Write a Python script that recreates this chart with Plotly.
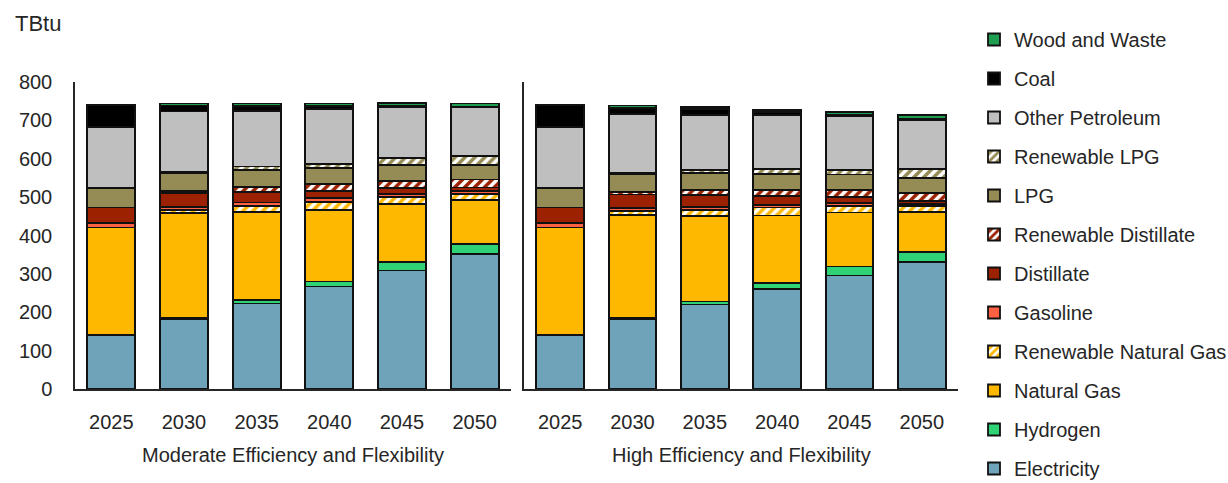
import plotly.graph_objects as go

# Years on each panel's category axis
years = ["2025", "2030", "2035", "2040", "2045", "2050"]
scenarios = ["Moderate Efficiency and Flexibility", "High Efficiency and Flexibility"]

# Energy use by fuel (TBtu), Moderate Efficiency and Flexibility
mod_electricity = [141, 183, 223, 267, 309, 352]
mod_hydrogen = [0, 1, 8, 13, 22, 26]
mod_natural_gas = [280, 275, 231, 187, 152, 115]
mod_renewable_ng = [0, 7, 14, 21, 18, 16]
mod_gasoline = [11, 9, 10, 10, 7, 7]
mod_distillate = [41, 36, 28, 18, 16, 9]
mod_renewable_distillate = [0, 5, 13, 19, 18, 21]
mod_lpg = [50, 46, 43, 41, 41, 37]
mod_renewable_lpg = [0, 5, 10, 11, 18, 24]
mod_other_petroleum = [159, 156, 145, 143, 134, 127]
mod_coal = [58, 16, 13, 8, 4, 2]
mod_wood_waste = [0, 5, 6, 6, 6, 8]

# Energy use by fuel (TBtu), High Efficiency and Flexibility
high_electricity = [141, 183, 220, 260, 296, 331]
high_hydrogen = [0, 1, 8, 16, 23, 26]
high_natural_gas = [280, 269, 222, 176, 141, 105]
high_renewable_ng = [0, 10, 16, 21, 17, 15]
high_gasoline = [11, 8, 9, 7, 7, 5]
high_distillate = [41, 36, 30, 23, 17, 8]
high_renewable_distillate = [0, 7, 14, 16, 17, 21]
high_lpg = [50, 47, 43, 41, 41, 39]
high_renewable_lpg = [0, 3, 9, 14, 12, 24]
high_other_petroleum = [159, 153, 144, 139, 139, 128]
high_coal = [58, 16, 15, 9, 4, 2]
high_wood_waste = [0, 6, 5, 5, 8, 11]

# Fuel names in stacking order (bottom to top)
fuels = [
    "Electricity", "Hydrogen", "Natural Gas", "Renewable Natural Gas", "Gasoline",
    "Distillate", "Renewable Distillate", "LPG", "Renewable LPG",
    "Other Petroleum", "Coal", "Wood and Waste",
]
moderate = [
    mod_electricity, mod_hydrogen, mod_natural_gas, mod_renewable_ng, mod_gasoline,
    mod_distillate, mod_renewable_distillate, mod_lpg, mod_renewable_lpg,
    mod_other_petroleum, mod_coal, mod_wood_waste,
]
high = [
    high_electricity, high_hydrogen, high_natural_gas, high_renewable_ng, high_gasoline,
    high_distillate, high_renewable_distillate, high_lpg, high_renewable_lpg,
    high_other_petroleum, high_coal, high_wood_waste,
]

colors = {
    "Electricity": "#6ea3b9",
    "Hydrogen": "#2fd274",
    "Natural Gas": "#ffb800",
    "Renewable Natural Gas": "#ffb800",
    "Gasoline": "#ff6142",
    "Distillate": "#9b2100",
    "Renewable Distillate": "#9b2100",
    "LPG": "#958b55",
    "Renewable LPG": "#958b55",
    "Other Petroleum": "#bfbfbf",
    "Coal": "#000000",
    "Wood and Waste": "#1f9e52",
}
hatched = {"Renewable Natural Gas", "Renewable Distillate", "Renewable LPG"}

FONT = "Liberation Sans, Arial, sans-serif"
TEXT = "#262626"

fig = go.Figure()
for panel, (values, xa, ya) in enumerate([(moderate, "x", "y"), (high, "x2", "y2")]):
    for i, (fuel, vals) in enumerate(zip(fuels, values)):
        marker = dict(color=colors[fuel], line=dict(color="#111111", width=1.8))
        if fuel in hatched:
            marker["pattern"] = dict(shape="/", fillmode="replace", bgcolor="white",
                                     fgcolor=colors[fuel], size=7, solidity=0.5)
        fig.add_trace(go.Bar(
            x=years, y=vals, name=fuel, marker=marker, width=0.66,
            xaxis=xa, yaxis=ya, legendgroup=fuel, showlegend=(panel == 0),
            legendrank=100 - i,  # top of the stack listed first
        ))

# Plot area spans 75..958 px horizontally, 82..389 px vertically
left_dom = [0, 436 / 883]
right_dom = [449 / 883, 1]
axis_common = dict(
    type="category", showgrid=False, zeroline=False, showline=True,
    linecolor="#262626", linewidth=1.5, ticks="", ticklabelstandoff=14,
    tickfont=dict(family=FONT, size=20, color=TEXT), fixedrange=True,
)
fig.update_layout(
    width=1228, height=483,
    margin=dict(l=75, r=270, t=82, b=94, autoexpand=False),
    paper_bgcolor="white", plot_bgcolor="white",
    barmode="stack", bargap=0.34,
    font=dict(family=FONT, size=20, color=TEXT),
    xaxis=dict(domain=left_dom, anchor="y", **axis_common),
    xaxis2=dict(domain=right_dom, anchor="y2", **axis_common),
    yaxis=dict(range=[0, 800], dtick=100, showgrid=False, zeroline=False,
               showline=True, linecolor="#262626", linewidth=1.5, ticks="",
               ticklabelstandoff=17, tickfont=dict(family=FONT, size=20, color=TEXT),
               anchor="x"),
    yaxis2=dict(range=[0, 800], matches="y", showgrid=False, zeroline=False,
                showline=True, linecolor="#262626", linewidth=1.5, ticks="",
                showticklabels=False, anchor="x2"),
    legend=dict(
        x=(974 - 75) / 883, xanchor="left", y=(389 - 20) / 307, yanchor="top",
        traceorder="grouped", tracegroupgap=10, maxheight=600,
        font=dict(family=FONT, size=20, color=TEXT), bgcolor="rgba(0,0,0,0)",
    ),
    showlegend=True,
)

# Unit label and scenario labels under each panel
fig.add_annotation(text="TBtu", xref="paper", yref="paper", x=(13 - 75) / 883,
                   y=(389 - 24) / 307, xanchor="left", yanchor="middle",
                   showarrow=False, font=dict(family=FONT, size=22, color=TEXT))
for name, dom in zip(scenarios, [left_dom, right_dom]):
    fig.add_annotation(text=name, xref="paper", yref="paper", x=(dom[0] + dom[1]) / 2,
                       y=(389 - 455) / 307, xanchor="center", yanchor="middle",
                       showarrow=False, font=dict(family=FONT, size=20, color=TEXT))

fig.write_html("out.html")
